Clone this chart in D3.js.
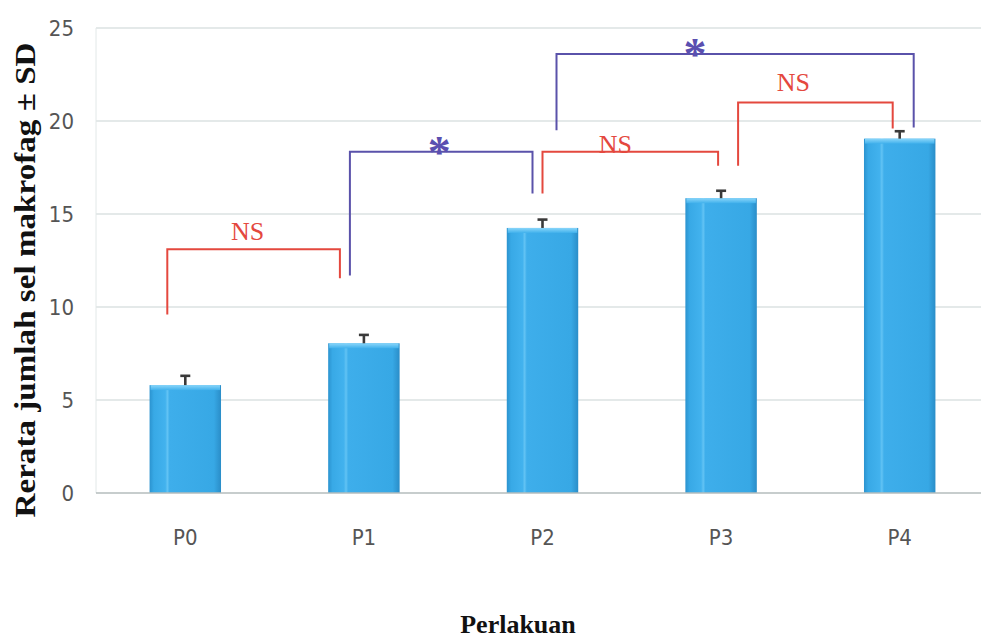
<!DOCTYPE html>
<html>
<head>
<meta charset="utf-8">
<script src="https://cdn.jsdelivr.net/npm/d3@7"></script>
<style>
  html, body { margin: 0; padding: 0; background: #ffffff; }
  svg { display: block; }
</style>
</head>
<body>
<svg id="chart" width="981" height="643"></svg>
<script>
// Mean macrophage counts per treatment group with their standard deviations
const groups = ["P0", "P1", "P2", "P3", "P4"];
const means = [5.8, 8.05, 14.25, 15.85, 19.05];
const sds = [0.5, 0.45, 0.45, 0.4, 0.4];
const yTicks = [0, 5, 10, 15, 20, 25];

// Pairwise comparisons: groups, significance label, bracket top and leg ends (data units)
const compFrom = ["P0", "P1", "P2", "P2", "P3"];
const compTo = ["P1", "P2", "P3", "P4", "P4"];
const compLabel = ["NS", "*", "NS", "*", "NS"];
const compTop = [13.1, 18.35, 18.35, 23.6, 21.0];
const compLeftEnd = [9.6, 11.7, 16.1, 19.5, 17.6];
const compRightEnd = [11.55, 16.1, 17.6, 19.65, 19.6];

const svg = d3.select("#chart");
const plot = { left: 96, right: 989, top: 28, bottom: 493 };

const x = d3.scaleBand().domain(groups)
  .range([plot.left, plot.right]).paddingInner(0.6).paddingOuter(0.3);
const y = d3.scaleLinear().domain([0, 25]).range([plot.bottom, plot.top]);

// Bar shading: darker edges, lighter body
const defs = svg.append("defs");
const gH = defs.append("linearGradient").attr("id", "barH").attr("x1", 0).attr("x2", 1).attr("y1", 0).attr("y2", 0);
[[0, "#2b93cf"], [0.06, "#38a9e6"], [0.22, "#42b2ee"], [0.25, "#62c3f4"], [0.28, "#3eaeeb"], [0.9, "#37a8e5"], [1, "#2a8dc8"]]
  .forEach(([o, c]) => gH.append("stop").attr("offset", o).attr("stop-color", c));
const gV = defs.append("linearGradient").attr("id", "barTop").attr("x1", 0).attr("x2", 0).attr("y1", 0).attr("y2", 1);
[[0, "#8ad6fa"], [1, "#41b1ec"]].forEach(([o, c]) => gV.append("stop").attr("offset", o).attr("stop-color", c));

// Gridlines
svg.append("g").selectAll("line").data(yTicks.filter(d => d > 0)).join("line")
  .attr("x1", plot.left).attr("x2", plot.right)
  .attr("y1", d => y(d)).attr("y2", d => y(d))
  .attr("stroke", "#c9d3d3").attr("stroke-width", 1.2);

// Left frame line
svg.append("line").attr("x1", plot.left).attr("x2", plot.left)
  .attr("y1", plot.top).attr("y2", plot.bottom)
  .attr("stroke", "#e2e8e8").attr("stroke-width", 1);

// Y axis labels
const tickFont = "'Liberation Sans Narrow', 'DejaVu Sans Condensed', 'Open Sans', sans-serif";
const yAxis = d3.axisLeft(y).tickValues(yTicks).tickSize(0).tickPadding(22);
const yg = svg.append("g").attr("transform", `translate(${plot.left},0)`).call(yAxis);
yg.select(".domain").remove();
yg.selectAll("text")
  .attr("fill", "#555")
  .style("font-family", tickFont)
  .style("font-size", "22px");

// Bars
const bars = svg.append("g").selectAll("g").data(groups).join("g");
bars.append("rect")
  .attr("x", d => x(d)).attr("width", x.bandwidth())
  .attr("y", (d, i) => y(means[i]))
  .attr("height", (d, i) => y(0) - y(means[i]))
  .attr("fill", "url(#barH)");
bars.append("rect")
  .attr("x", d => x(d) + 1).attr("width", x.bandwidth() - 2)
  .attr("y", (d, i) => y(means[i]))
  .attr("height", 5)
  .attr("fill", "url(#barTop)");

// Error bars (upper arm)
const eb = svg.append("g").attr("stroke", "#3a3a3a").attr("stroke-width", 2.6);
eb.selectAll(".stem").data(groups).join("line").attr("class", "stem")
  .attr("x1", d => x(d) + x.bandwidth() / 2).attr("x2", d => x(d) + x.bandwidth() / 2)
  .attr("y1", (d, i) => y(means[i])).attr("y2", (d, i) => y(means[i] + sds[i]));
eb.selectAll(".cap").data(groups).join("line").attr("class", "cap")
  .attr("x1", d => x(d) + x.bandwidth() / 2 - 5).attr("x2", d => x(d) + x.bandwidth() / 2 + 5)
  .attr("y1", (d, i) => y(means[i] + sds[i])).attr("y2", (d, i) => y(means[i] + sds[i]));

// Baseline
svg.append("line").attr("x1", plot.left).attr("x2", plot.right)
  .attr("y1", y(0)).attr("y2", y(0))
  .attr("stroke", "#b5bcbc").attr("stroke-width", 1.5);

// X axis labels
const xAxis = d3.axisBottom(x).tickSize(0).tickPadding(36);
const xg = svg.append("g").attr("transform", `translate(0,${plot.bottom})`).call(xAxis);
xg.select(".domain").remove();
xg.selectAll("text")
  .attr("fill", "#555")
  .style("font-family", tickFont)
  .style("font-size", "22px");

// Comparison brackets
const legOffsetL = [-18, -14, 0, 14, 17];
const legOffsetR = [-24, -10, -3, 14, -7];
const labelDx = [-6, -2, -15, -40, -22];
const labelDy = [-9, 16, 1, 16, -11];
const cx = g => x(g) + x.bandwidth() / 2;
const brackets = svg.append("g");
compFrom.forEach((f, i) => {
  const isSig = compLabel[i] === "*";
  const col = isSig ? "#5a52aa" : "#e4483e";
  const xl = cx(f) + legOffsetL[i];
  const xr = cx(compTo[i]) + legOffsetR[i];
  brackets.append("path")
    .attr("d", `M${xl},${y(compLeftEnd[i])}V${y(compTop[i])}H${xr}V${y(compRightEnd[i])}`)
    .attr("fill", "none").attr("stroke", col).attr("stroke-width", 2);
  const mid = (xl + xr) / 2 + labelDx[i];
  const t = brackets.append("text")
    .attr("x", mid).attr("y", y(compTop[i]) + labelDy[i])
    .attr("text-anchor", "middle")
    .style("font-family", "'Liberation Serif', serif")
    .text(compLabel[i]);
  if (isSig) {
    t.attr("fill", "#5a4fb0").style("font-weight", "bold").style("font-size", "46px");
  } else {
    t.attr("fill", "#e4483e").style("font-size", "26px");
  }
});

// Axis titles
svg.append("text")
  .attr("transform", "translate(35,280) rotate(-90)")
  .attr("text-anchor", "middle")
  .attr("fill", "#111")
  .attr("textLength", 475).attr("lengthAdjust", "spacingAndGlyphs")
  .style("font-family", "'Liberation Serif', serif")
  .style("font-weight", "bold")
  .style("font-size", "29px")
  .text("Rerata jumlah sel makrofag ± SD");

svg.append("text")
  .attr("x", 518).attr("y", 633)
  .attr("text-anchor", "middle")
  .attr("fill", "#111")
  .style("font-family", "'Liberation Serif', serif")
  .style("font-weight", "bold")
  .style("font-size", "26px")
  .text("Perlakuan");
</script>
</body>
</html>
